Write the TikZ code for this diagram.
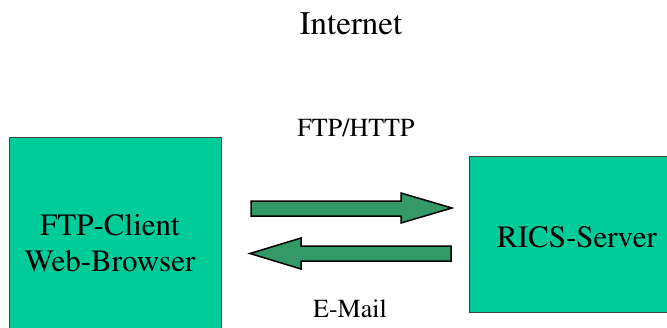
\documentclass[tikz,border=0pt]{standalone}
\usepackage[T1]{fontenc}
\usepackage{times}
\usepackage{tikz}
\usetikzlibrary{positioning}
\definecolor{boxgreen}{RGB}{0,204,153}
\definecolor{arrowgreen}{RGB}{51,153,102}
\tikzset{box/.style = {draw=black!75, line width=0.8pt, fill=boxgreen,
                       anchor=north west, inner sep=0pt}}
\tikzset{boxtext/.style = {font=\fontsize{31}{36}\selectfont, align=center}}
\tikzset{smalltext/.style = {font=\fontsize{26}{30}\selectfont}}
\tikzset{blockarrow/.style = {draw=black, line width=1.5pt, fill=arrowgreen,
                              line join=miter}}

\begin{document}
\begin{tikzpicture}[x=1pt, y=-1pt]
      \useasboundingbox (0, 0) rectangle (667, 327);

      \node [font=\fontsize{33}{38}\selectfont] (internet) at (351, 24) {Internet};

      \node [box, minimum width=212pt, minimum height=210pt] (client) at (9, 137) {};
      \node [boxtext] (clienttext) at (110, 243) {FTP-Client\\Web-Browser};

      \node [box, minimum width=210pt, minimum height=156pt] (server) at (469, 156) {};
      \node [boxtext] (servertext) at (577, 237) {RICS-Server};

      \draw [blockarrow] (251, 201) -- (401, 201) -- (401, 193) -- (452, 208)
        -- (401, 223) -- (401, 216) -- (251, 216) -- cycle;
      \draw [blockarrow] (451, 246) -- (301, 246) -- (301, 238) -- (250, 253.5)
        -- (301, 269) -- (301, 261) -- (451, 261) -- cycle;

      \node [smalltext] (ftp) at (356, 128) {FTP/HTTP};
      \node [smalltext] (mail) at (350, 309) {E-Mail};
    \end{tikzpicture}
\end{document}
